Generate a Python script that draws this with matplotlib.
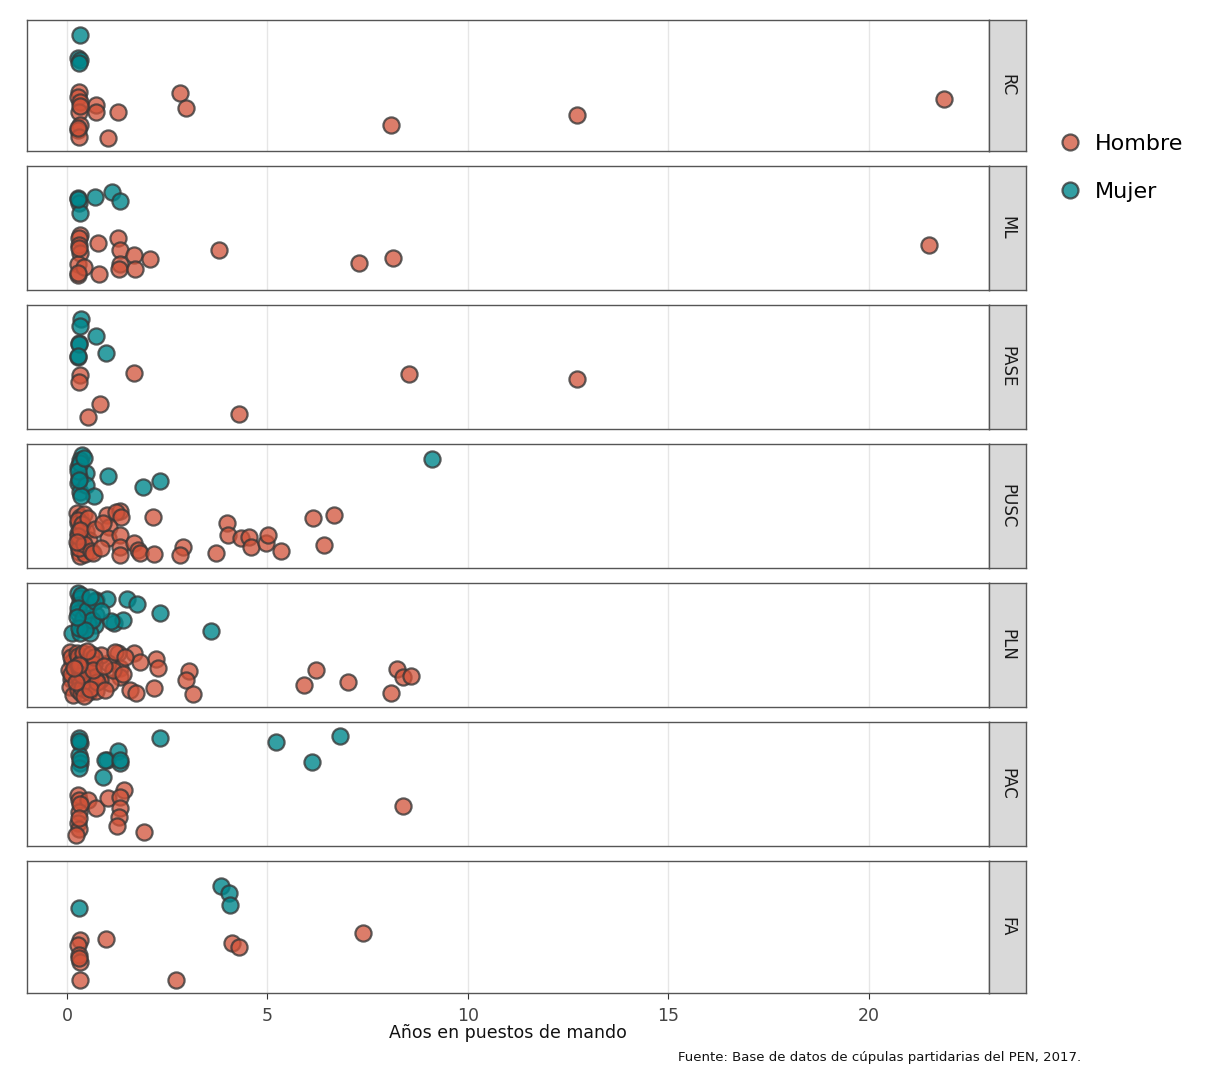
import matplotlib
matplotlib.use("Agg")
import matplotlib.pyplot as plt
from matplotlib.lines import Line2D

partidos = ["RC", "ML", "PASE", "PUSC", "PLN", "PAC", "FA"]
generos = ["Hombre", "Mujer"]
x_ticks = [0, 5, 10, 15, 20]
x_label = "Años en puestos de mando"
caption = "Fuente: Base de datos de cúpulas partidarias del PEN, 2017."

# Years (x) and jittered vertical position (y: Hombre ~1, Mujer ~2)
rc_h_x = [0.30, 0.28, 0.32, 0.29, 0.31, 0.27, 0.30, 0.71, 0.73, 1.28, 1.01, 2.81, 2.97, 8.09, 12.71, 21.88, 0.26, 0.33]
rc_h_y = [1.39, 1.31, 1.22, 1.06, 0.84, 0.76, 0.64, 1.17, 1.06, 1.06, 0.62, 1.37, 1.12, 0.84, 1.00, 1.27, 0.78, 1.15]
rc_m_x = [0.33, 0.28, 0.33, 0.30]
rc_m_y = [2.34, 1.96, 1.92, 1.88]

ml_h_x = [0.31, 0.29, 0.29, 0.33, 0.27, 0.27, 0.41, 0.77, 0.79, 1.28, 1.31, 1.31, 1.29, 1.68, 1.70, 2.08, 3.78, 7.29, 8.12, 21.51, 0.30, 0.26]
ml_h_y = [1.38, 1.32, 1.20, 1.05, 0.87, 0.67, 0.81, 1.23, 0.68, 1.32, 1.11, 0.87, 0.78, 1.02, 0.77, 0.95, 1.11, 0.88, 0.97, 1.20, 1.15, 0.70]
ml_m_x = [0.27, 0.30, 0.31, 0.69, 1.12, 1.33, 0.28]
ml_m_y = [2.03, 1.94, 1.77, 2.05, 2.13, 1.98, 2.01]

pase_h_x = [0.33, 0.29, 1.68, 0.81, 0.52, 4.30, 8.52, 12.71]
pase_h_y = [1.36, 1.24, 1.40, 0.84, 0.61, 0.66, 1.38, 1.29]
pase_m_x = [0.35, 0.33, 0.71, 0.29, 0.28, 0.98, 0.30, 0.27]
pase_m_y = [2.36, 2.23, 2.05, 1.92, 1.68, 1.75, 1.90, 1.70]

pusc_h_x = [0.99, 1.31, 1.23, 1.35, 2.14, 1.04, 1.02, 1.31, 1.31, 1.31, 1.68, 1.77, 1.81, 2.18, 2.89, 2.81,
            3.72, 3.98, 4.01, 4.34, 4.55, 4.59, 4.97, 5.01, 5.34, 6.13, 6.67, 6.42,
            0.25, 0.31, 0.28, 0.35, 0.42, 0.27, 0.30, 0.48, 0.33, 0.26, 0.38, 0.55, 0.29, 0.31, 0.45, 0.27,
            0.36, 0.52, 0.30, 0.28, 0.41, 0.33, 0.60, 0.25, 0.70, 0.65, 0.90, 0.85]
pusc_h_y = [1.34, 1.41, 1.40, 1.31, 1.31, 1.13, 0.94, 0.99, 0.78, 0.63, 0.84, 0.72, 0.66, 0.65, 0.77, 0.63,
            0.66, 1.19, 0.99, 0.93, 0.95, 0.77, 0.84, 0.99, 0.70, 1.29, 1.34, 0.81,
            1.38, 1.30, 1.20, 1.12, 1.35, 1.02, 0.95, 1.05, 0.88, 0.80, 0.72, 0.90, 0.68, 0.62, 0.64, 1.25,
            1.18, 1.28, 0.75, 0.97, 0.82, 1.08, 0.70, 0.86, 1.10, 0.66, 1.20, 0.75]
pusc_m_x = [0.38, 0.31, 0.27, 0.48, 0.29, 0.27, 0.31, 0.48, 0.66, 0.35, 1.02, 1.89, 2.31, 9.11, 0.33, 0.26, 0.42, 0.30]
pusc_m_y = [2.40, 2.31, 2.20, 2.08, 2.02, 1.90, 1.75, 1.87, 1.68, 1.68, 2.04, 1.84, 1.95, 2.33, 2.26, 2.12, 2.36, 1.96]

pln_h_x = [3.05, 2.97, 3.14, 2.21, 2.26, 2.18, 1.68, 1.81, 1.27, 1.31, 1.31, 1.56, 1.73, 1.06, 0.81, 1.02, 0.85,
           5.92, 6.22, 7.02, 8.09, 8.22, 8.37, 8.57,
           0.08, 0.12, 0.06, 0.10, 0.07, 0.15, 0.09, 0.11, 0.25, 0.30, 0.27, 0.33, 0.29, 0.31, 0.26, 0.35,
           0.28, 0.32, 0.40, 0.45, 0.52, 0.48, 0.38, 0.55, 0.60, 0.62, 0.58, 0.66, 0.70, 0.73, 0.68, 0.75,
           0.42, 0.36, 0.50, 0.57, 0.64, 0.30, 0.22, 0.18, 1.15, 1.20, 0.95, 1.40, 1.45, 0.92]
pln_h_y = [1.03, 0.88, 0.63, 1.26, 1.10, 0.73, 1.35, 1.19, 1.35, 1.09, 0.94, 0.70, 0.64, 0.82, 0.88, 1.18, 1.32,
           0.79, 1.06, 0.84, 0.65, 1.07, 0.93, 0.95,
           1.38, 1.20, 1.05, 0.90, 0.75, 0.62, 1.28, 0.98, 1.35, 1.25, 1.12, 1.02, 0.92, 0.80, 0.70, 0.64,
           1.30, 1.18, 1.36, 1.08, 1.22, 0.86, 0.74, 0.66, 1.34, 1.00, 0.80, 1.16, 0.94, 0.68, 1.28, 0.84,
           0.60, 0.96, 1.40, 0.72, 1.06, 1.15, 0.85, 1.10, 1.05, 1.38, 0.70, 0.98, 1.28, 1.12]
pln_m_x = [0.27, 0.31, 0.29, 0.48, 0.73, 0.99, 1.49, 1.74, 2.31, 0.71, 0.69, 0.31, 0.27, 0.52, 1.17, 1.39,
           0.13, 0.31, 0.56, 3.60, 0.35, 0.28, 0.40, 0.50, 0.62, 0.30, 0.45, 0.70, 0.58, 0.25, 1.10, 0.85]
pln_m_y = [2.42, 2.33, 2.21, 2.24, 2.30, 2.31, 2.31, 2.23, 2.07, 2.03, 1.85, 1.88, 2.06, 1.88, 1.89, 1.94,
           1.72, 1.71, 1.71, 1.74, 2.38, 2.15, 1.98, 2.12, 1.95, 1.80, 1.76, 2.28, 2.36, 2.00, 1.92, 2.10]

pac_h_x = [0.27, 0.29, 0.52, 0.71, 1.02, 1.43, 1.31, 1.31, 1.29, 1.24, 0.29, 0.27, 0.29, 0.23, 1.93, 8.37, 0.31, 0.30]
pac_h_y = [1.30, 1.22, 1.22, 1.07, 1.25, 1.39, 1.27, 1.07, 0.92, 0.75, 1.01, 0.80, 0.71, 0.60, 0.64, 1.11, 1.15, 0.90]
pac_m_x = [0.29, 0.31, 0.29, 0.33, 0.29, 0.99, 1.27, 1.31, 0.89, 2.31, 5.20, 6.11, 6.80, 0.95, 1.33, 0.30, 0.32]
pac_m_y = [2.31, 2.22, 2.01, 1.87, 1.78, 1.92, 2.09, 1.87, 1.63, 2.31, 2.25, 1.89, 2.35, 1.93, 1.92, 2.27, 1.95]

fa_h_x = [0.31, 0.27, 0.29, 0.31, 0.31, 0.96, 2.72, 4.12, 4.30, 7.39, 0.30]
fa_h_y = [1.28, 1.20, 1.03, 0.92, 0.61, 1.30, 0.62, 1.24, 1.16, 1.40, 0.98]
fa_m_x = [0.29, 3.85, 4.04, 4.07]
fa_m_y = [1.82, 2.19, 2.06, 1.87]

datos = {
    "RC": (rc_h_x, rc_h_y, rc_m_x, rc_m_y),
    "ML": (ml_h_x, ml_h_y, ml_m_x, ml_m_y),
    "PASE": (pase_h_x, pase_h_y, pase_m_x, pase_m_y),
    "PUSC": (pusc_h_x, pusc_h_y, pusc_m_x, pusc_m_y),
    "PLN": (pln_h_x, pln_h_y, pln_m_x, pln_m_y),
    "PAC": (pac_h_x, pac_h_y, pac_m_x, pac_m_y),
    "FA": (fa_h_x, fa_h_y, fa_m_x, fa_m_y),
}

# ---- layout (pixels) ----
W, H = 1208, 1066
panel_left, panel_right, strip_right = 27, 989, 1026
panel_tops = [20, 166, 305, 444, 583, 722, 861]
panel_bots = [151, 290, 429, 568, 707, 846, 993]

col_h = (0.82, 0.32, 0.22, 0.75)
col_m = (0.0, 0.53, 0.55, 0.80)
edge = (0.22, 0.22, 0.22, 0.8)
frame_col = "#555555"

plt.rcParams["font.family"] = ["DejaVu Sans"]
fig = plt.figure(figsize=(W / 100, H / 100), dpi=100)

def fx(p):
    return p / W

def fy(p):
    return 1 - p / H

for i, p in enumerate(partidos):
    top, bot = panel_tops[i], panel_bots[i]
    ax = fig.add_axes([fx(panel_left), fy(bot), fx(panel_right - panel_left), (bot - top) / H])
    hx, hy, mx, my = datos[p]
    ax.scatter(hx, hy, s=135, c=[col_h], edgecolors=[edge], linewidths=1.6, zorder=3)
    ax.scatter(mx, my, s=135, c=[col_m], edgecolors=[edge], linewidths=1.6, zorder=3)
    ax.set_xlim(-1.0, 23.0)
    ax.set_ylim(0.4, 2.6)
    ax.set_xticks(x_ticks)
    ax.set_yticks([])
    ax.grid(axis="x", color="#E6E6E6", linewidth=1.0, zorder=0)
    for s in ax.spines.values():
        s.set_color(frame_col)
        s.set_linewidth(1.0)
    if i == len(partidos) - 1:
        ax.tick_params(axis="x", length=4, color="#333333", labelsize=12.5,
                       labelcolor="#444444", pad=6)
        ax.set_xlabel(x_label, fontsize=12.5, labelpad=-1, color="#111111")
    else:
        ax.tick_params(axis="x", length=0, labelbottom=False)

    sax = fig.add_axes([fx(panel_right), fy(bot), fx(strip_right - panel_right), (bot - top) / H])
    sax.set_facecolor("#D9D9D9")
    sax.set_xticks([])
    sax.set_yticks([])
    for s in sax.spines.values():
        s.set_color(frame_col)
        s.set_linewidth(1.0)
    sax.text(0.5, 0.5, p, rotation=-90, ha="center", va="center", fontsize=12,
             color="#1A1A1A", transform=sax.transAxes)

handles = [
    Line2D([], [], marker="o", linestyle="", markersize=11.5, markerfacecolor=col_h,
           markeredgecolor=edge, markeredgewidth=1.6),
    Line2D([], [], marker="o", linestyle="", markersize=11.5, markerfacecolor=col_m,
           markeredgecolor=edge, markeredgewidth=1.6),
]
fig.legend(handles, generos, loc="upper left", bbox_to_anchor=(fx(1048), fy(125)),
           frameon=False, fontsize=16, labelspacing=1.25, handletextpad=0.5,
           borderaxespad=0, handlelength=1.2)

fig.text(fx(1081), fy(1058), caption, ha="right", va="center", fontsize=9.5, color="#111111")

fig.savefig("out.png", dpi=100)
